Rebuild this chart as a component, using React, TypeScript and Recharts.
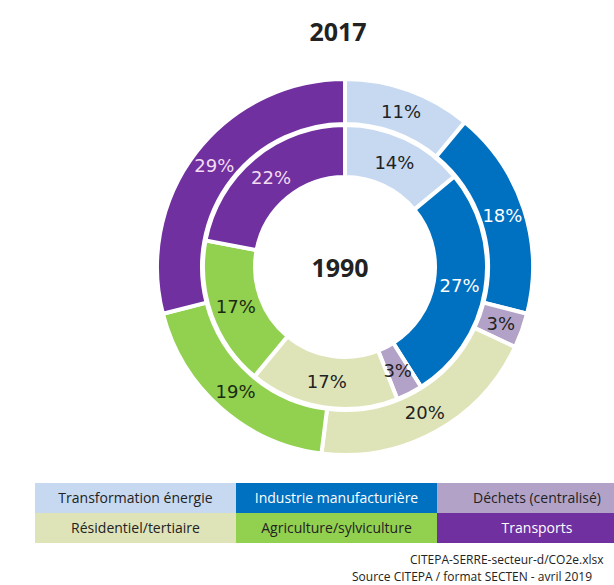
import React from 'react';
import { Pie, PieChart, Cell } from 'recharts';

const categories = [
  'Transformation énergie',
  'Industrie manufacturière',
  'Déchets (centralisé)',
  'Résidentiel/tertiaire',
  'Agriculture/sylviculture',
  'Transports',
];
const colors = ['#c6d9f1', '#0070c0', '#b3a2c7', '#dfe4b8', '#92d050', '#7030a0'];
const labelColors = ['#222', '#fff', '#222', '#222', '#1a2a10', '#f3dcf3'];
const share1990 = [14, 27, 3, 17, 17, 22];
const share2017 = [11, 18, 3, 20, 19, 29];
const footerLines = [
  'CITEPA-SERRE-secteur-d/CO2e.xlsx',
  'Source CITEPA / format SECTEN - avril 2019',
];

const inner = categories.map((name, i) => ({ name, value: share1990[i] }));
const outer = categories.map((name, i) => ({ name, value: share2017[i] }));

const RAD = Math.PI / 180;
const FONT = '"DejaVu Sans", Verdana, sans-serif';
const TEXT_FONT = '"Open Sans", sans-serif';

function renderLabel(props: any) {
  const { cx, cy, midAngle, innerRadius, outerRadius, index, value } = props;
  const r = (innerRadius + outerRadius) / 2;
  const x = cx + r * Math.cos(-midAngle * RAD);
  const y = cy + r * Math.sin(-midAngle * RAD);
  return (
    <text
      x={x}
      y={y}
      fill={labelColors[index]}
      textAnchor="middle"
      dominantBaseline="central"
      fontSize={18}
      fontFamily={FONT}
    >
      {value}%
    </text>
  );
}

export default function App() {
  return (
    <div
      style={{
        position: 'absolute',
        left: 0,
        top: 0,
        width: 614,
        height: 585,
        overflow: 'hidden',
        background: '#fff',
        fontFamily: FONT,
      }}
    >
      <div
        style={{
          position: 'absolute',
          left: 0,
          width: 676,
          top: 14,
          textAlign: 'center',
          fontSize: 25,
          fontWeight: 700,
          color: '#222',
          fontFamily: TEXT_FONT,
        }}
      >
        2017
      </div>
      <PieChart width={614} height={470}>
        <Pie
          data={inner}
          dataKey="value"
          cx={340}
          cy={262}
          innerRadius={90}
          outerRadius={142}
          startAngle={90}
          endAngle={-270}
          stroke="#fff"
          strokeWidth={4}
          label={renderLabel}
          labelLine={false}
          isAnimationActive={false}
        >
          {inner.map((d, i) => (
            <Cell key={d.name} fill={colors[i]} />
          ))}
        </Pie>
        <Pie
          data={outer}
          dataKey="value"
          cx={340}
          cy={262}
          innerRadius={143}
          outerRadius={188}
          startAngle={90}
          endAngle={-270}
          stroke="#fff"
          strokeWidth={4}
          label={renderLabel}
          labelLine={false}
          isAnimationActive={false}
        >
          {outer.map((d, i) => (
            <Cell key={d.name} fill={colors[i]} />
          ))}
        </Pie>
      </PieChart>
      <div
        style={{
          position: 'absolute',
          left: 240,
          width: 200,
          top: 250,
          textAlign: 'center',
          fontSize: 25,
          fontWeight: 700,
          color: '#222',
          fontFamily: TEXT_FONT,
        }}
      >
        1990
      </div>
      <div style={{ position: 'absolute', left: 35, top: 483, width: 620 }}>
        {categories.map((c, i) => (
          <div
            key={c}
            style={{
              position: 'absolute',
              left: (i % 3) * 201,
              top: Math.floor(i / 3) * 30,
              width: i % 3 === 2 ? 200 : 201,
              height: 30,
              lineHeight: '30px',
              background: colors[i],
              color: i === 1 || i === 5 ? '#fff' : '#222',
              textAlign: 'center',
              fontSize: 14,
              fontFamily: TEXT_FONT,
            }}
          >
            {c}
          </div>
        ))}
      </div>
      {footerLines.map((t, i) => (
        <div
          key={t}
          style={{
            position: 'absolute',
            left: i === 0 ? 410 : 352,
            top: 551 + i * 17,
            fontSize: 12,
            lineHeight: '17px',
            whiteSpace: 'nowrap',
            color: '#222',
            fontFamily: TEXT_FONT,
          }}
        >
          {t}
        </div>
      ))}
    </div>
  );
}
